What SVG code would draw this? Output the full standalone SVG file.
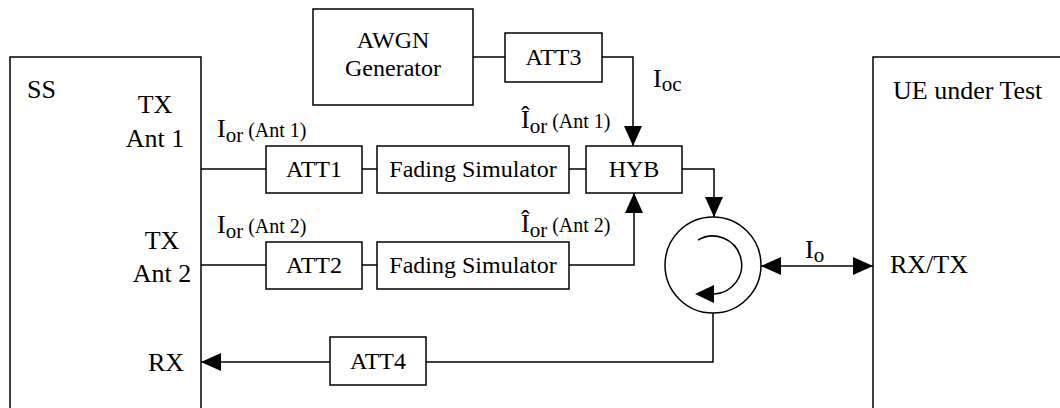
<svg xmlns="http://www.w3.org/2000/svg" width="1060" height="408" viewBox="0 0 1060 408">
<style>
.box{fill:#fff;stroke:#000;stroke-width:1.5}
.ln{fill:none;stroke:#000;stroke-width:1.5}
text{font-family:"Liberation Serif","Times New Roman",serif;fill:#000}
.lbl{font-size:24px;text-anchor:middle}
.side{font-size:26px}
.mid{text-anchor:middle}
</style>
<defs>
<marker id="ah" viewBox="0 0 20 18" refX="20" refY="9" markerWidth="20" markerHeight="18" markerUnits="userSpaceOnUse" orient="auto-start-reverse">
<path d="M0,0 L20,9 L0,18 z" fill="#000"/>
</marker>
</defs>
<g id="ss"><rect class="box" x="10" y="57" width="191" height="360"/>
<text class="side" x="27" y="98">SS</text>
<text class="side mid" x="155" y="113">TX</text>
<text class="side mid" x="155" y="147">Ant 1</text>
<text class="side mid" x="162" y="249">TX</text>
<text class="side mid" x="162" y="282">Ant 2</text>
<text class="side mid" x="166" y="371">RX</text></g>
<g id="ue"><rect class="box" x="873" y="57" width="200" height="360"/>
<text class="side" x="893" y="99">UE under Test</text>
<text class="side" x="890" y="273">RX/TX</text></g>
<g id="awgn"><rect class="box" x="313" y="9" width="160" height="96"/>
<text class="lbl" x="393" y="48">AWGN</text>
<text class="lbl" x="393" y="76">Generator</text></g>
<g id="att3"><rect class="box" x="505" y="33" width="97" height="49"/><text class="lbl" x="553.5" y="65">ATT3</text></g>
<g id="att1"><rect class="box" x="266" y="146" width="96" height="47"/><text class="lbl" x="314" y="177">ATT1</text></g>
<g id="fs1"><rect class="box" x="377" y="146" width="192" height="47"/><text class="lbl" x="473" y="177">Fading Simulator</text></g>
<g id="hyb"><rect class="box" x="586" y="146" width="96" height="47"/><text class="lbl" x="634" y="177">HYB</text></g>
<g id="att2"><rect class="box" x="266" y="242" width="96" height="47"/><text class="lbl" x="314" y="273">ATT2</text></g>
<g id="fs2"><rect class="box" x="377" y="242" width="192" height="47"/><text class="lbl" x="473" y="273">Fading Simulator</text></g>
<g id="att4"><rect class="box" x="330" y="337" width="96" height="48"/><text class="lbl" x="378" y="369">ATT4</text></g>
<g id="circ"><circle class="ln" cx="713" cy="265" r="48"/>
<path class="ln" d="M698,240 A29,29 0 1 1 714,294"/>
<polygon points="695,294 714,285 714,303" fill="#000"/></g>
<g id="connectors">
<path class="ln" d="M473,57 H505"/>
<path class="ln" d="M602,57 H633 V146" marker-end="url(#ah)"/>
<path class="ln" d="M201,169 H266"/>
<path class="ln" d="M362,169 H377"/>
<path class="ln" d="M569,169 H586"/>
<path class="ln" d="M201,265 H266"/>
<path class="ln" d="M362,265 H377"/>
<path class="ln" d="M569,265 H634 V193" marker-end="url(#ah)"/>
<path class="ln" d="M682,169 H714 V217" marker-end="url(#ah)"/>
<path class="ln" d="M761,266 H873" marker-start="url(#ah)" marker-end="url(#ah)"/>
<path class="ln" d="M713,313 V362 H426"/>
<path class="ln" d="M330,362 H201" marker-end="url(#ah)"/>
</g>
<g id="labels">
<text x="217" y="137"><tspan font-size="26">I</tspan><tspan font-size="21" dy="5">or</tspan><tspan font-size="20" dy="-5"> (Ant 1)</tspan></text>
<text x="217" y="233"><tspan font-size="26">I</tspan><tspan font-size="21" dy="5">or</tspan><tspan font-size="20" dy="-5"> (Ant 2)</tspan></text>
<text x="521" y="128"><tspan font-size="26">Î</tspan><tspan font-size="21" dy="5">or</tspan><tspan font-size="20" dy="-5"> (Ant 1)</tspan></text>
<text x="521" y="232"><tspan font-size="26">Î</tspan><tspan font-size="21" dy="5">or</tspan><tspan font-size="20" dy="-5"> (Ant 2)</tspan></text>
<text x="653" y="87"><tspan font-size="26">I</tspan><tspan font-size="21" dy="4">oc</tspan></text>
<text x="805" y="258"><tspan font-size="26">I</tspan><tspan font-size="21" dy="4">o</tspan></text>
</g>
</svg>
